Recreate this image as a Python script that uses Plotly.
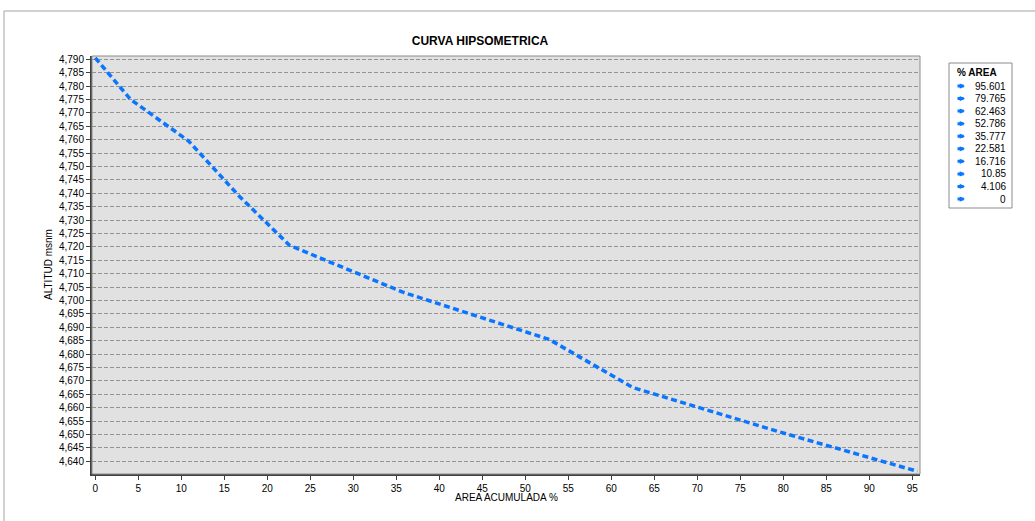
"""Curva hipsometrica - altitud vs area acumulada (%)."""

import plotly.graph_objects as go

AREA_PCT = [0, 4.106, 10.85, 16.716, 22.581, 35.777, 52.786, 62.463, 79.765, 95.601]
AREA_LABELS = ["0", "4.106", "10.85", "16.716", "22.581", "35.777", "52.786", "62.463", "79.765", "95.601"]
ALTITUD = [4790.5, 4775, 4759.5, 4739, 4720.6, 4703.1, 4685.5, 4667.6, 4650.8, 4636.3]

TITLE = "CURVA HIPSOMETRICA"
X_TITLE = "AREA ACUMULADA %"
Y_TITLE = "ALTITUD msnm"
LEGEND_TITLE = "% AREA"

_W, _H = 1035, 521
_L, _R, _T, _B = 92, 115, 56, 47
_LINE_COLOR = "#0A76FF"
_FONT = "Liberation Sans, Arial, sans-serif"


def _px(x):
    return (x - _L) / (_W - _L - _R)


def _py(y):
    return (_H - _B - y) / (_H - _T - _B)


fig = go.Figure()
fig.add_trace(
    go.Scatter(
        x=AREA_PCT,
        y=ALTITUD,
        mode="lines",
        line=dict(color=_LINE_COLOR, width=3.5, dash="6px,3.5px"),
        showlegend=False,
        name="altitud",
    )
)

# outer chart border (runs off the page on right/bottom)
fig.add_shape(
    type="rect", xref="paper", yref="paper",
    x0=_px(4), x1=_px(1200), y0=_py(700), y1=_py(11),
    line=dict(color="#a3a3a3", width=1), layer="below",
)
# thin plot-area frame
fig.add_shape(
    type="rect", xref="paper", yref="paper",
    x0=0, x1=1, y0=0, y1=1,
    line=dict(color="#8c8c8c", width=1), layer="above",
)

# compact legend drawn by hand (plotly's rows are too tall)
fig.add_shape(
    type="rect", xref="paper", yref="paper",
    x0=_px(949), x1=_px(1012), y0=_py(208), y1=_py(63),
    line=dict(color="#8c8c8c", width=1), fillcolor="white",
)
fig.add_annotation(
    text=f"<b>{LEGEND_TITLE}</b>", xref="paper", yref="paper",
    x=_px(955), y=_py(72.5), xanchor="left", yanchor="middle",
    showarrow=False, font=dict(size=10, color="black", family=_FONT),
)
for i, lab in enumerate(reversed(AREA_LABELS)):
    yy = 86 + 12.56 * i
    fig.add_annotation(
        text=lab, xref="paper", yref="paper",
        x=_px(1008), y=_py(yy), xanchor="right", yanchor="middle",
        showarrow=False, font=dict(size=10, color="black", family=_FONT),
    )
    fig.add_annotation(
        text="", xref="paper", yref="paper",
        x=_px(965), y=_py(yy), ax=-9, ay=0,
        showarrow=True, arrowhead=2, arrowsize=0.35, arrowwidth=3,
        arrowcolor=_LINE_COLOR,
    )

fig.add_annotation(
    text=Y_TITLE, xref="paper", yref="paper",
    x=_px(48), y=0.5, textangle=-90, xanchor="center", yanchor="middle",
    showarrow=False, font=dict(size=10, color="black", family=_FONT),
)
fig.add_annotation(
    text=X_TITLE, xref="paper", yref="paper",
    x=0.5, y=_py(497), xanchor="center", yanchor="middle",
    showarrow=False, font=dict(size=10, color="black", family=_FONT),
)

fig.update_layout(
    width=_W,
    height=_H,
    margin=dict(l=_L, r=_R, t=_T, b=_B),
    paper_bgcolor="white",
    plot_bgcolor="#e1e1e1",
    showlegend=False,
    font=dict(family=_FONT, size=10, color="black"),
    title=dict(
        text=f"<b>{TITLE}</b>", x=_px(480), xref="paper", xanchor="center",
        y=1 - 41 / _H, yref="container", yanchor="middle",
        font=dict(size=12, color="black", family=_FONT),
    ),
)
fig.update_xaxes(
    range=[-0.38, 95.9],
    tickmode="linear", tick0=0, dtick=5,
    showgrid=False, zeroline=False,
    showline=True, linecolor="#404040", linewidth=2,
    ticks="outside", ticklen=4, tickcolor="#404040", tickwidth=1,
    tickfont=dict(size=10, color="black"),
)
fig.update_yaxes(
    range=[4635.3, 4791.2],
    tickmode="linear", tick0=4640, dtick=5, tickformat=",d",
    showgrid=True, gridcolor="#939393", gridwidth=1, griddash="4px,2px",
    zeroline=False,
    showline=True, linecolor="#404040", linewidth=2,
    ticks="outside", ticklen=4, tickcolor="#404040", tickwidth=1,
    tickfont=dict(size=10, color="black"),
)

# drop the browser's default 8px body margin so the figure sits at 0,0
fig.write_html(
    "out.html",
    config={"displayModeBar": False},
    post_script="document.body.style.margin = '0';",
)
